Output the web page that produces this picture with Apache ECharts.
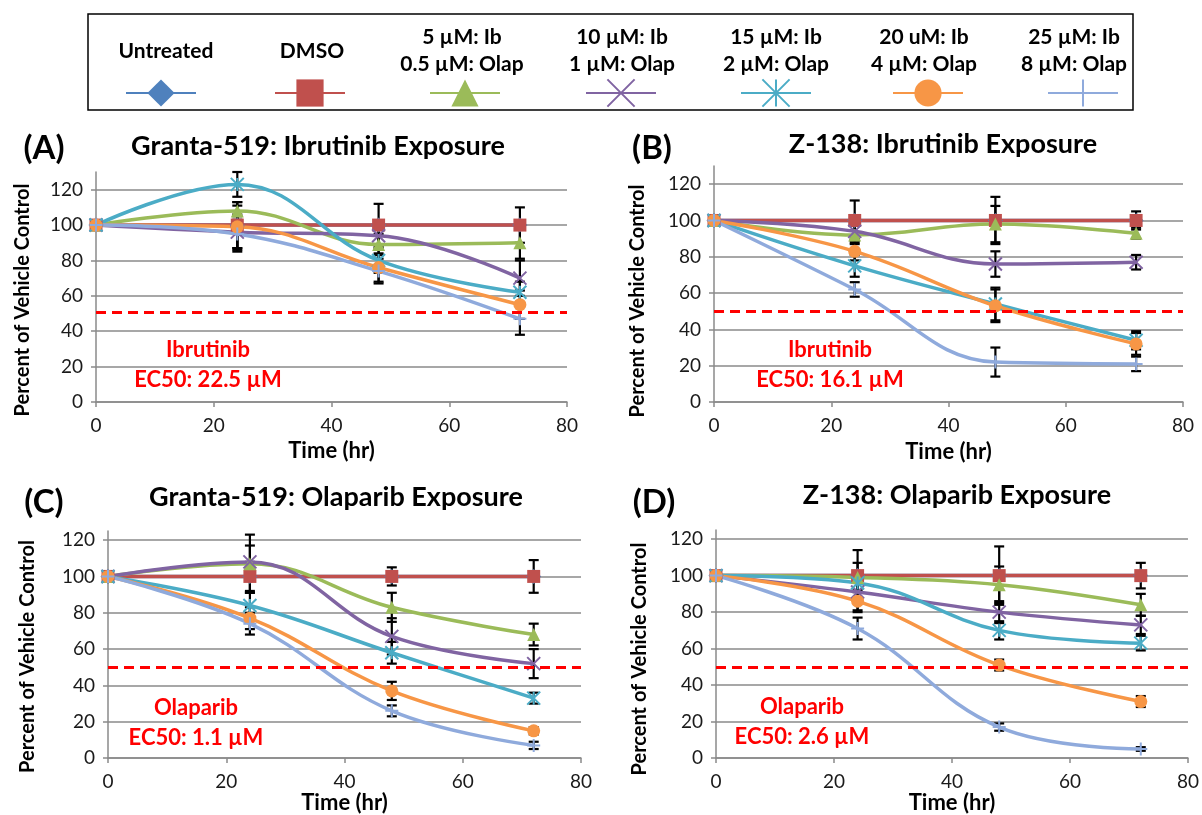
<!DOCTYPE html>
<html>
<head>
<meta charset="utf-8">
<title>Ibrutinib / Olaparib exposure</title>
<script src="https://cdn.jsdelivr.net/npm/echarts@6/dist/echarts.min.js"></script>
<style>
  html, body { margin: 0; padding: 0; background: #fff; }
  #chart { width: 1202px; height: 815px; }
</style>
</head>
<body>
<div id="chart"></div>
<script>
// time points (hr)
var hours = [0, 24, 48, 72];

var groupNames = ['Untreated', 'DMSO', '5 uM', '10 uM', '15 uM', '20 uM', '25 uM'];
var legendLabels = [
  'Untreated',
  'DMSO',
  '5 µM: Ib\n0.5 µM: Olap',
  '10 µM: Ib\n1 µM: Olap',
  '15 µM: Ib\n2 µM: Olap',
  '20 uM: Ib\n4 µM: Olap',
  '25 µM: Ib\n8 µM: Olap'
];

// (A) Granta-519, ibrutinib
var grantaIbMean = [
  [100, 100, 100, 100],
  [100, 100, 100, 100],
  [100, 108, 89, 90],
  [100, 96, 94, 70],
  [100, 123, 80, 62],
  [100, 99, 76, 55],
  [100, 95, 74, 47]
];
var grantaIbErr = [
  [0, 0, 0, 0],
  [0, 13, 12, 10],
  [0, 5, 6, 9],
  [0, 10, 8, 10],
  [0, 7, 7, 6],
  [0, 12, 8, 8],
  [0, 10, 7, 9]
];

// (B) Z-138, ibrutinib
var z138IbMean = [
  [100, 100, 100, 100],
  [100, 100, 100, 100],
  [100, 92, 98, 93],
  [100, 94, 76, 77],
  [100, 75, 54, 34],
  [100, 83, 53, 32],
  [100, 62, 22, 21]
];
var z138IbErr = [
  [0, 0, 0, 0],
  [0, 11, 13, 5],
  [0, 5, 10, 3],
  [0, 4, 7, 4],
  [0, 6, 9, 5],
  [0, 5, 9, 6],
  [0, 4, 8, 4]
];

// (C) Granta-519, olaparib
var grantaOlMean = [
  [100, 100, 100, 100],
  [100, 100, 100, 100],
  [100, 107, 83, 68],
  [100, 108, 67, 52],
  [100, 84, 58, 33],
  [100, 77, 37, 15],
  [100, 74, 26, 7]
];
var grantaOlErr = [
  [0, 0, 0, 0],
  [0, 8, 5, 9],
  [0, 16, 8, 6],
  [0, 9, 10, 8],
  [0, 7, 6, 3],
  [0, 6, 5, 2],
  [0, 6, 3, 2]
];

// (D) Z-138, olaparib
var z138OlMean = [
  [100, 100, 100, 100],
  [100, 100, 100, 100],
  [100, 99, 95, 84],
  [100, 91, 80, 73],
  [100, 96, 70, 63],
  [100, 86, 51, 31],
  [100, 71, 17, 5]
];
var z138OlErr = [
  [0, 0, 0, 0],
  [0, 14, 16, 7],
  [0, 8, 10, 6],
  [0, 10, 6, 5],
  [0, 5, 5, 4],
  [0, 6, 3, 3],
  [0, 6, 2, 1]
];

var panelTitles = ['Granta-519: Ibrutinib Exposure', 'Z-138: Ibrutinib Exposure',
  'Granta-519: Olaparib Exposure', 'Z-138: Olaparib Exposure'];
var panelLetters = ['(A)', '(B)', '(C)', '(D)'];
var ec50Drug = ['Ibrutinib', 'Ibrutinib', 'Olaparib', 'Olaparib'];
var ec50Value = ['EC50: 22.5 µM', 'EC50: 16.1 µM', 'EC50: 1.1 µM', 'EC50: 2.6 µM'];
var halfLine = [51, 50, 50, 50];

// styling
var colors = ['#4F81BD', '#C0504D', '#9BBB59', '#8064A2', '#4BACC6', '#F79646', '#8FAADC'];
var symbols = ['diamond', 'rect', 'triangle',
  'path://M0,0L10,10M10,0L0,10',
  'path://M0,0L10,10M10,0L0,10M5,0L5,10',
  'circle',
  'path://M5,0L5,10M0,5L10,5'];
var strokedSymbol = [false, false, false, true, true, false, true];
var FONT = 'Lato, "Open Sans", sans-serif';
var AXIS_GRAY = '#8a8a8a';

// yShift pushes the rotated y-axis name down a little (padding on its right side)
var panels = [
  { mean: grantaIbMean, err: grantaIbErr, yMax: 130,
    grid: { left: 96, top: 172, width: 471, height: 230 },
    xGap: 38, yGap: 63, yShift: 13, title: [318, 146], letter: [44, 148], ec50: [208, 350] },
  { mean: z138IbMean, err: z138IbErr, yMax: 130,
    grid: { left: 714, top: 166, width: 469, height: 236 },
    xGap: 39, yGap: 66, yShift: 17, title: [943, 144], letter: [652, 148], ec50: [830, 350] },
  { mean: grantaOlMean, err: grantaOlErr, yMax: 125,
    grid: { left: 108, top: 531, width: 473, height: 230 },
    xGap: 30, yGap: 70, yShift: 12, title: [336, 497], letter: [44, 502], ec50: [196, 708] },
  { mean: z138OlMean, err: z138OlErr, yMax: 125,
    grid: { left: 716, top: 530, width: 477, height: 229 },
    xGap: 32, yGap: 66, yShift: 15, title: [957, 495], letter: [654, 502], ec50: [802, 707] }
];

function renderErrorBar(params, api) {
  var x = api.value(0);
  var lo = api.coord([x, api.value(1)]);
  var hi = api.coord([x, api.value(2)]);
  var w = 5;
  var st = { stroke: '#000', lineWidth: 2.2 };
  return {
    type: 'group',
    children: [
      { type: 'line', shape: { x1: lo[0], y1: lo[1], x2: hi[0], y2: hi[1] }, style: st },
      { type: 'line', shape: { x1: lo[0] - w, y1: lo[1], x2: lo[0] + w, y2: lo[1] }, style: st },
      { type: 'line', shape: { x1: hi[0] - w, y1: hi[1], x2: hi[0] + w, y2: hi[1] }, style: st }
    ]
  };
}

var grids = [], xAxes = [], yAxes = [], series = [];

panels.forEach(function(p, pi) {
  grids.push(p.grid);
  xAxes.push({
    gridIndex: pi, type: 'value', min: 0, max: 80, interval: 20,
    axisLine: { show: true, onZero: false, lineStyle: { color: AXIS_GRAY, width: 1.5 } },
    axisTick: { show: true, length: 5, lineStyle: { color: AXIS_GRAY, width: 1.5 } },
    axisLabel: { color: '#1a1a1a', fontSize: 19, fontFamily: FONT, margin: 14 },
    splitLine: { show: false },
    name: 'Time (hr)', nameLocation: 'middle', nameGap: p.xGap,
    nameTextStyle: { color: '#000', fontSize: 22, fontWeight: 'bold', fontFamily: FONT }
  });
  yAxes.push({
    gridIndex: pi, type: 'value', min: 0, max: p.yMax, interval: 20,
    axisLine: { show: true, lineStyle: { color: AXIS_GRAY, width: 1.5 } },
    axisTick: { show: true, length: 5, lineStyle: { color: AXIS_GRAY, width: 1.5 } },
    axisLabel: { color: '#1a1a1a', fontSize: 19, fontFamily: FONT, margin: 13, showMaxLabel: false },
    splitLine: { show: true, showMaxLine: false, lineStyle: { color: AXIS_GRAY, width: 1.5 } },
    name: 'Percent of Vehicle Control', nameLocation: 'middle', nameRotate: 90, nameGap: p.yGap,
    nameTextStyle: { color: '#000', fontSize: 20, fontWeight: 'bold', fontFamily: FONT,
      padding: [0, p.yShift * 2, 0, 0] }
  });

  // error bars, under the lines
  var bars = [];
  p.mean.forEach(function(row, si) {
    row.forEach(function(v, k) {
      var e = p.err[si][k];
      if (e > 0) bars.push([hours[k], v - e, v + e]);
    });
  });
  series.push({
    type: 'custom', xAxisIndex: pi, yAxisIndex: pi, z: 2, silent: true,
    renderItem: renderErrorBar, data: bars
  });

  groupNames.forEach(function(name, si) {
    var s = {
      name: name, type: 'line', xAxisIndex: pi, yAxisIndex: pi, z: 3,
      smooth: 0.4,
      symbol: symbols[si], symbolSize: si === 0 ? 15 : 13,
      showAllSymbol: true,
      lineStyle: { color: colors[si], width: 3.5 },
      itemStyle: strokedSymbol[si]
        ? { color: 'none', borderColor: colors[si], borderWidth: 2 }
        : { color: colors[si] },
      emphasis: { disabled: true },
      data: hours.map(function(h, k) { return [h, p.mean[si][k]]; })
    };
    if (si === 1) {
      s.markLine = {
        silent: true, symbol: 'none', label: { show: false },
        lineStyle: { color: '#FF0000', type: [10, 6], width: 3 },
        data: [{ yAxis: halfLine[pi] }]
      };
    }
    series.push(s);
  });
});

// legend: one icon per group, text drawn above it
var legendX = [160, 309, 464, 620, 775, 927, 1082];
var legendTextX = [166, 312, 462, 622, 776, 924, 1074];
var legends = groupNames.map(function(name, i) {
  return {
    data: [name], left: legendX[i] - 35, top: 76, padding: 0,
    itemWidth: 70, itemHeight: 34, selectedMode: false,
    lineStyle: { width: 2 },
    formatter: function() { return ''; }
  };
});

var graphics = [{
  type: 'rect', shape: { x: 88, y: 14, width: 1045, height: 96 },
  style: { fill: 'none', stroke: '#000', lineWidth: 1.5 }, z: 0
}];
legendLabels.forEach(function(t, i) {
  graphics.push({
    type: 'text', x: legendTextX[i], y: 51,
    style: { text: t, font: 'bold 21px ' + FONT, fill: '#000', align: 'center', verticalAlign: 'middle', lineHeight: 27 }
  });
});
panels.forEach(function(p, pi) {
  graphics.push({
    type: 'text', x: p.title[0], y: p.title[1],
    style: { text: panelTitles[pi], font: 'bold 27px ' + FONT, fill: '#000', align: 'center', verticalAlign: 'middle' }
  });
  graphics.push({
    type: 'text', x: p.letter[0], y: p.letter[1],
    style: { text: panelLetters[pi], font: 'bold 33px ' + FONT, fill: '#000', align: 'center', verticalAlign: 'middle' }
  });
  graphics.push({
    type: 'text', x: p.ec50[0], y: p.ec50[1] - 15,
    style: { text: ec50Drug[pi] + '\n' + ec50Value[pi], font: 'bold 22px ' + FONT, fill: '#FF0000',
      align: 'center', verticalAlign: 'top', lineHeight: 30 }, z: 10
  });
});

var chart = echarts.init(document.getElementById('chart'));
chart.setOption({
  animation: false,
  backgroundColor: '#fff',
  grid: grids,
  xAxis: xAxes,
  yAxis: yAxes,
  legend: legends,
  graphic: graphics,
  series: series
});
window.onresize = function() { chart.resize(); };
</script>
</body>
</html>
